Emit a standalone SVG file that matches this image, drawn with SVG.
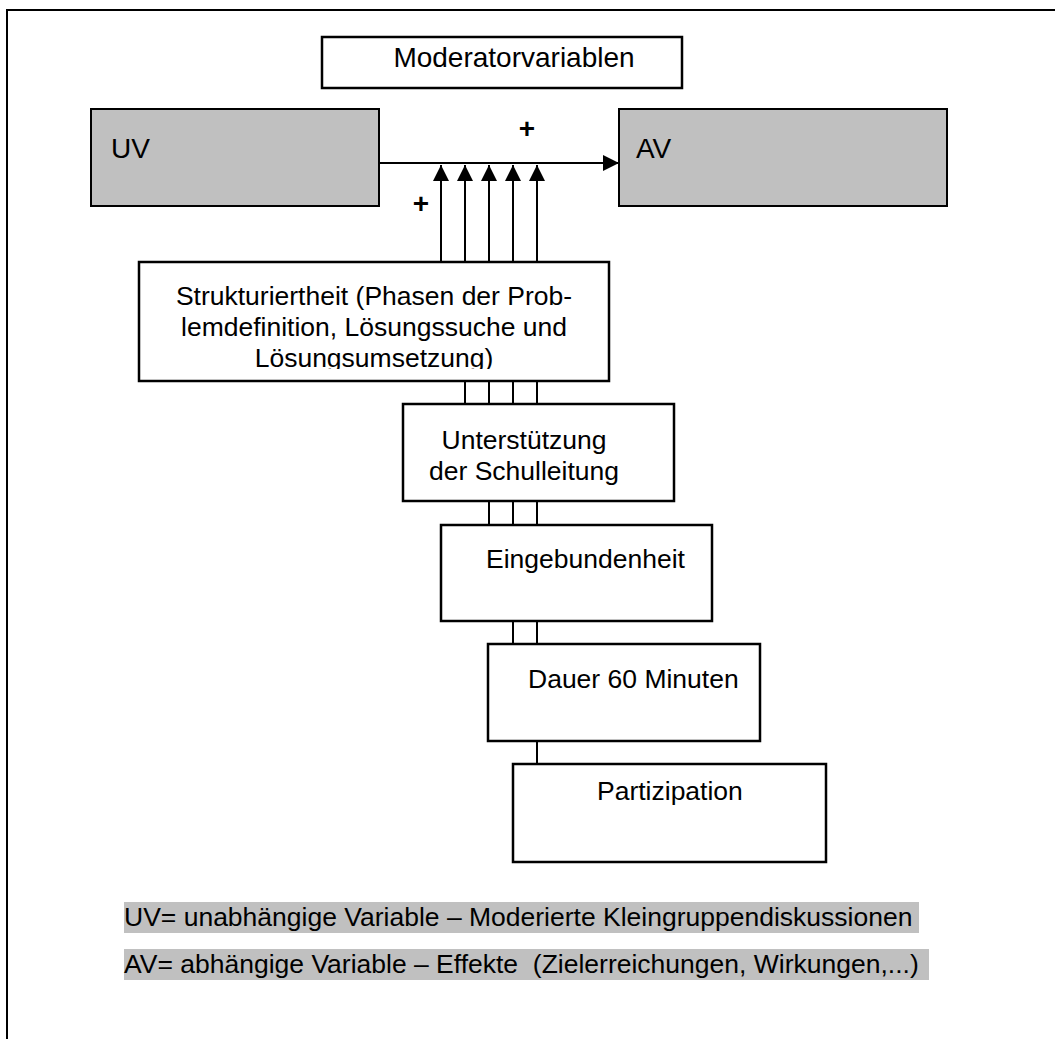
<svg xmlns="http://www.w3.org/2000/svg" width="1055" height="1039" viewBox="0 0 1055 1039">
<style>
text{font-family:"Liberation Sans",Arial,sans-serif;fill:#000}
.box{fill:#fff;stroke:#000;stroke-width:2.5}
.gbox{fill:#c0c0c0;stroke:#000;stroke-width:2}
.t{font-size:26.5px}
.big{font-size:28px}
.plus{font-size:28px;font-weight:bold}
.ln{stroke:#000;stroke-width:2;fill:none}
.hl{fill:#c0c0c0}
</style>
<defs>
<marker id="ahu" viewBox="0 0 16 16" refX="16" refY="8" markerWidth="16" markerHeight="16" markerUnits="userSpaceOnUse" orient="auto">
<path d="M0,0 L16,8 L0,16 z" fill="#000"/>
</marker>
<clipPath id="clipS"><rect x="139" y="262" width="470" height="107"/></clipPath>
</defs>
<rect width="1055" height="1039" fill="#fff"/>
<g id="frame">
<path d="M7,1039 V10 H1055" class="ln" stroke-width="2.5"/>
</g>
<g id="moderator">
<rect class="box" x="322" y="37" width="360" height="51" stroke-width="1.8"/>
<text class="big" x="514" y="67" text-anchor="middle" font-size="28.5">Moderatorvariablen</text>
</g>
<g id="uv">
<rect class="gbox" x="91" y="109" width="288" height="97"/>
<text class="big" x="111" y="158">UV</text>
</g>
<g id="av">
<rect class="gbox" x="619" y="109" width="328" height="97"/>
<text class="big" x="636" y="158">AV</text>
</g>
<g id="connectors">
<line class="ln" x1="379" y1="163" x2="619" y2="163" marker-end="url(#ahu)"/>
<line class="ln" x1="441" y1="262" x2="441" y2="165" marker-end="url(#ahu)"/>
<line class="ln" x1="465" y1="262" x2="465" y2="165" marker-end="url(#ahu)"/>
<line class="ln" x1="489" y1="262" x2="489" y2="165" marker-end="url(#ahu)"/>
<line class="ln" x1="513" y1="262" x2="513" y2="165" marker-end="url(#ahu)"/>
<line class="ln" x1="537" y1="262" x2="537" y2="165" marker-end="url(#ahu)"/>
<line class="ln" x1="465" y1="381" x2="465" y2="404"/>
<line class="ln" x1="489" y1="381" x2="489" y2="404"/>
<line class="ln" x1="513" y1="381" x2="513" y2="404"/>
<line class="ln" x1="537" y1="381" x2="537" y2="404"/>
<line class="ln" x1="489" y1="501" x2="489" y2="525"/>
<line class="ln" x1="513" y1="501" x2="513" y2="525"/>
<line class="ln" x1="537" y1="501" x2="537" y2="525"/>
<line class="ln" x1="513" y1="621" x2="513" y2="644"/>
<line class="ln" x1="537" y1="621" x2="537" y2="644"/>
<line class="ln" x1="537" y1="741" x2="537" y2="764"/>
<text class="plus" x="527" y="138" text-anchor="middle">+</text>
<text class="plus" x="421" y="213" text-anchor="middle">+</text>
</g>
<g id="strukturiertheit">
<rect class="box" x="139" y="262" width="470" height="119"/>
<g clip-path="url(#clipS)">
<text class="t" x="374" y="305" text-anchor="middle">Strukturiertheit (Phasen der Prob-</text>
<text class="t" x="374" y="336" text-anchor="middle">lemdefinition, Lösungssuche und</text>
<text class="t" x="374" y="367" text-anchor="middle">Lösungsumsetzung)</text>
</g>
</g>
<g id="unterstuetzung">
<rect class="box" x="403" y="404" width="271" height="97"/>
<text class="t" x="524" y="449" text-anchor="middle">Unterstützung</text>
<text class="t" x="524" y="480" text-anchor="middle">der Schulleitung</text>
</g>
<g id="eingebundenheit">
<rect class="box" x="441" y="525" width="271" height="96"/>
<text class="t" x="486" y="568">Eingebundenheit</text>
</g>
<g id="dauer">
<rect class="box" x="488" y="644" width="272" height="97"/>
<text class="t" x="528" y="688">Dauer 60 Minuten</text>
</g>
<g id="partizipation">
<rect class="box" x="513" y="764" width="313" height="98"/>
<text class="t" x="597" y="800">Partizipation</text>
</g>
<g id="legend">
<rect class="hl" x="124" y="902" width="795" height="31"/>
<text class="t" x="124" y="926">UV= unabhängige Variable – Moderierte Kleingruppendiskussionen</text>
<rect class="hl" x="124" y="949" width="805" height="31"/>
<text class="t" x="124" y="973" xml:space="preserve">AV= abhängige Variable – Effekte  (Zielerreichungen, Wirkungen,...)</text>
</g>
</svg>
